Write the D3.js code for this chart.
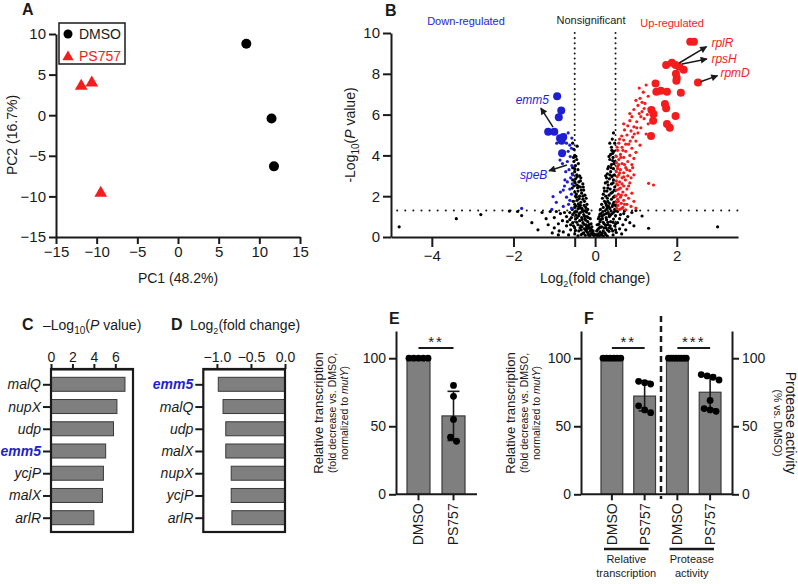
<!DOCTYPE html>
<html lang="en">
<head>
<meta charset="UTF-8">
<title>PS757 transcriptomics figure</title>
<script src="https://d3js.org/d3.v7.min.js"></script>
<style>
  body { margin: 0; background: #fff; }
  svg text { font-family: 'Liberation Sans', Arial, Helvetica, sans-serif; fill: #1a1a1a; }
</style>
</head>
<body>
<script>
  // ---- data ----
  const pcaDmso = [[8.4, 8.8], [11.5, -0.4], [11.8, -6.3]];
  const pcaPs757 = [[-11.9, 3.6], [-10.6, 4.0], [-9.5, -9.6]];
  const pcaTicks = [-15, -10, -5, 0, 5, 10, 15];
  const pcaYTicks = [-15, -10, -5, 0, 5, 10];

  // volcano: [log2 fold change, -log10 p]
  const volcanoNs = [
    [-0.55,4.6],[-0.52,4.3],[-0.5,4.0],[-0.53,3.9],[-0.45,3.8],[-0.52,3.7],[-0.48,3.5],[-0.55,3.4],[-0.42,3.3],[-0.5,3.2],
    [-0.56,3.1],[-0.45,3.05],[-0.38,3.0],[-0.35,2.9],[-0.48,2.85],[-0.55,2.8],[-0.4,2.7],[-0.3,2.6],[-0.45,2.55],[-0.52,2.5],
    [-0.36,2.45],[-0.56,2.4],[-0.28,2.3],[-0.42,2.25],[-0.5,2.2],[-0.33,2.15],[-0.25,2.05],[-0.47,2.0],[-0.38,2.0],[-0.22,1.9],
    [-0.3,1.85],[-0.44,1.8],[-0.54,1.75],[-0.35,1.7],[-0.2,1.6],[-0.27,1.55],[-0.4,1.5],[-0.5,1.45],[-0.32,1.4],[-0.18,1.35],
    [-0.56,1.35],[-0.24,1.3],[-0.45,1.25],[-0.36,1.2],[-0.15,1.15],[-0.28,1.1],[-0.55,1.1],[-0.4,1.05],[-0.2,1.0],[-0.7,1.0],
    [-0.33,0.95],[-0.12,0.9],[-0.25,0.9],[-0.48,0.88],[-0.62,0.85],[-0.8,0.8],[-0.38,0.8],[-0.18,0.75],[-0.1,0.65],[-0.3,0.7],
    [-0.55,0.7],[-0.9,0.65],[-0.22,0.6],[-0.42,0.6],[-0.7,0.55],[-0.08,0.5],[-0.15,0.45],[-0.32,0.5],[-0.5,0.45],[-1.0,0.45],
    [-0.26,0.4],[-0.6,0.35],[-0.05,0.3],[-0.12,0.3],[-0.4,0.3],[-0.2,0.25],[-0.78,0.25],[-0.03,0.15],[-0.1,0.15],[-0.3,0.18],
    [-0.5,0.15],[-0.16,0.1],[-0.65,0.1],[-0.24,0.08],[-0.02,0.05],[-0.42,0.06],[-0.9,0.1],[-0.46,1.95],[-0.41,1.62],[-0.51,1.2],
    [-0.29,1.25],[-0.37,1.42],[-0.47,1.08],[-0.58,0.95],[-0.35,0.55],[-0.45,0.72],[-0.28,0.2],[-0.53,0.55],[-0.14,0.62],[-0.07,0.22],
    [-0.19,0.4],[-0.34,0.35],[-0.6,0.6],[-0.43,2.42],[-0.49,2.65],[-0.39,1.88],[-0.23,0.82],[-0.62,1.2],[-0.68,0.75],[-0.5,1.6],
    [-0.44,4.45],[-0.47,3.95],[-0.41,3.6],[-0.5,3.35],[-0.44,2.95],[-0.36,2.75],[-0.5,2.7],[-0.41,2.5],[-0.29,2.45],[-0.34,2.3],
    [-0.46,2.1],[-0.3,2.0],[-0.26,1.75],[-0.36,1.55],[-0.47,1.52],[-0.23,1.45],[-0.42,1.38],[-0.31,1.3],[-0.21,1.22],[-0.39,1.15],
    [-0.26,1.02],[-0.17,0.95],[-0.44,0.95],[-0.32,0.85],[-0.16,0.55],[-0.27,0.62],[-0.21,0.5],[-0.11,0.42],[-0.37,0.45],[-0.09,0.35],
    [-0.17,0.2],[-0.06,0.12],[-0.34,0.12],[-0.13,0.05],[-0.23,0.32],[-0.48,0.32],
    [-4.8,0.5],[-3.4,0.9],[-2.8,1.1],[-1.8,1.05],[-1.55,0.7],[-1.3,1.2],[-1.2,0.9],[-1.1,1.25],[-1.0,0.95],[-1.4,0.35],
    [-0.95,1.25],[-0.85,1.15],[-1.15,0.6],[-0.75,1.2],[-1.9,1.25],[-2.1,1.27],[-0.88,0.3],[-1.05,0.2],
    [0.45,5.1],[0.42,4.8],[0.48,4.6],[0.4,4.4],[0.46,4.2],[0.38,4.05],[0.44,3.9],[0.36,3.8],[0.48,3.7],[0.4,3.55],
    [0.33,3.45],[0.45,3.35],[0.38,3.2],[0.3,3.1],[0.47,3.05],[0.42,3.0],[0.28,2.9],[0.35,2.85],[0.45,2.8],[0.25,2.65],
    [0.4,2.6],[0.32,2.55],[0.48,2.45],[0.22,2.4],[0.37,2.35],[0.29,2.25],[0.43,2.2],[0.2,2.1],[0.34,2.05],[0.48,2.0],
    [0.26,2.0],[0.18,1.9],[0.3,1.9],[0.4,1.85],[0.23,1.75],[0.46,1.7],[0.35,1.65],[0.16,1.6],[0.28,1.55],[0.42,1.5],
    [0.2,1.45],[0.36,1.4],[0.13,1.35],[0.48,1.35],[0.25,1.3],[0.32,1.2],[0.55,1.25],[0.15,1.15],[0.42,1.15],[0.22,1.1],
    [0.62,1.1],[0.1,1.0],[0.35,1.0],[0.5,1.05],[0.7,1.15],[0.08,0.9],[0.18,0.9],[0.28,0.85],[0.45,0.88],[0.6,0.9],
    [0.75,0.85],[0.12,0.75],[0.38,0.75],[0.55,0.7],[0.05,0.6],[0.22,0.65],[0.32,0.6],[0.48,0.55],[0.68,0.6],[0.85,0.7],
    [0.1,0.45],[0.16,0.5],[0.27,0.45],[0.4,0.4],[0.6,0.4],[0.04,0.3],[0.12,0.25],[0.2,0.3],[0.34,0.28],[0.52,0.22],
    [0.75,0.35],[0.02,0.12],[0.08,0.15],[0.15,0.1],[0.26,0.12],[0.44,0.1],[0.65,0.15],[0.06,0.05],[0.2,0.04],[0.39,1.28],
    [0.44,1.6],[0.31,1.75],[0.47,2.3],[0.41,2.95],[0.34,1.1],[0.27,0.95],[0.5,0.65],[0.43,0.3],[0.24,0.2],[0.14,0.85],
    [0.5,1.55],[0.37,0.55],[0.31,2.4],[0.46,3.6],[0.43,4.1],
    [0.36,4.6],[0.41,4.25],[0.34,3.95],[0.43,3.75],[0.31,3.35],[0.39,3.4],[0.26,3.0],[0.36,3.05],[0.44,2.65],[0.3,2.7],
    [0.23,2.25],[0.39,2.15],[0.45,1.95],[0.26,1.65],[0.33,1.5],[0.19,1.25],[0.29,1.4],[0.46,1.22],[0.12,1.12],[0.27,1.15],
    [0.38,1.08],[0.17,1.02],[0.44,0.72],[0.31,0.72],[0.2,0.72],[0.09,0.62],[0.26,0.58],[0.13,0.48],[0.35,0.45],[0.22,0.45],
    [0.07,0.38],[0.3,0.35],[0.17,0.18],[0.1,0.05],[0.3,0.05],[0.5,0.35],
    [1.15,1.03],[1.31,0.43],[3.0,0.5],[0.9,1.2],[0.8,1.0],[0.95,0.55],[1.0,1.3],[0.72,1.28]
  ];
  const volcanoDown = [
    [-0.66,5.1],[-0.74,5.0],[-0.57,4.85],[-0.94,4.6],[-0.62,4.5],[-0.7,4.6],[-0.58,4.35],[-0.66,4.2],[-0.75,4.15],[-0.61,3.94],
    [-0.86,3.77],[-0.68,3.7],[-0.8,3.6],[-0.57,3.5],[-0.64,3.3],[-0.72,3.2],[-0.55,3.05],[-0.6,2.9],[-0.74,2.8],[-0.68,2.7],
    [-0.56,2.6],[-0.75,2.5],[-0.78,2.3],[-0.62,2.35],[-0.85,2.2],[-0.58,2.1],[-1.03,1.98],[-0.7,1.95],[-0.62,1.8],[-0.95,1.7],
    [-0.65,1.6],[-0.78,1.5],[-0.58,1.42],[-1.06,1.35],[-1.8,1.4]
  ];
  const volcanoUp = [
    [1.25,7.45],[1.18,7.1],[1.3,6.9],[1.1,6.8],[1.0,6.7],[1.22,6.55],[1.05,6.45],[1.32,6.3],[0.95,6.25],[1.15,6.15],
    [1.28,6.0],[1.08,6.05],[0.9,5.9],[1.2,5.8],[0.85,5.7],[1.02,5.65],[1.3,5.55],[0.8,5.45],[0.95,5.4],[1.12,5.35],
    [0.72,5.25],[0.88,5.2],[1.05,5.1],[1.25,5.05],[0.78,5.0],[0.65,4.95],[0.92,4.9],[0.7,4.75],[1.0,4.7],[0.58,4.6],
    [0.82,4.55],[1.1,4.5],[0.66,4.4],[0.9,4.35],[0.55,4.25],[0.75,4.2],[1.0,4.15],[0.62,4.05],[0.85,4.0],[0.52,3.95],
    [0.7,3.9],[0.95,3.85],[0.58,3.8],[0.8,3.7],[0.52,3.65],[0.66,3.6],[0.9,3.55],[0.55,3.45],[0.75,3.4],[0.62,3.3],
    [0.85,3.25],[0.52,3.2],[0.7,3.15],[0.58,3.05],[0.95,3.05],[0.8,3.0],[0.54,2.95],[0.66,2.9],[0.74,2.8],[0.52,2.75],
    [0.6,2.7],[0.85,2.65],[0.56,2.55],[0.7,2.5],[1.31,2.63],[1.43,2.55],[0.62,2.4],[0.78,2.35],[0.53,2.3],[0.68,2.2],
    [0.9,2.15],[0.57,2.1],[0.75,2.05],[0.51,2.0],[0.62,1.95],[0.82,1.9],[0.55,1.85],[0.7,1.8],[0.95,1.75],[0.52,1.7],
    [0.64,1.65],[0.78,1.6],[0.56,1.55],[0.88,1.5],[0.68,1.45],[0.53,1.4],[1.0,1.42],[0.6,1.35],[0.75,1.33],
    [0.58,3.55],[0.63,3.9],[0.54,4.4],[0.6,4.8],[0.68,4.25],[0.72,3.55],[0.6,3.15],[0.66,2.6],[0.58,2.35],[0.64,2.05],
    [0.57,1.75],[0.72,1.6],[0.65,1.4],[0.82,2.5],[0.88,2.9],[0.78,3.3],[0.92,3.4],[0.75,4.55],[0.86,4.7],[0.96,5.05],
    [1.02,5.35],[1.12,5.9],[1.2,6.3],[1.15,6.6],[0.7,5.55],[0.85,6.05],[1.08,7.3],[0.55,3.35],[0.53,2.6],[0.7,2.95]
  ];
  const volcanoDownTop = [[-0.93,6.9],[-0.83,6.2],[-0.89,5.87],[-1.15,5.16],[-1.0,5.16],[-0.86,4.84],[-0.82,4.72],[-0.78,4.9],[-0.81,4.1]];
  const volcanoUpTop = [
    [2.33,9.57],[2.42,9.57],[1.74,8.43],[1.88,8.54],[1.97,8.43],[2.06,8.35],[2.17,8.2],[1.98,8.0],[2.0,7.8],[1.99,7.66],
    [2.52,7.57],[1.48,7.53],[1.61,7.17],[1.5,7.12],[1.76,7.12],[2.1,7.07],[1.38,6.22],[1.71,6.52],[1.74,6.31],[1.43,6.03],
    [1.97,5.93],[1.42,5.7],[1.76,5.54],[1.83,5.36],[1.37,4.95]
  ];
  // labelled genes: arrow tail, arrow head, text anchor (data units)
  const volcanoNotes = [
    {gene: 'emm5', from: [-1.03, 5.39], to: [-1.33, 6.32], at: [-1.13, 6.5], side: 'end', color: 'down'},
    {gene: 'speB', from: [-0.69, 3.53], to: [-1.13, 3.25], at: [-1.17, 2.84], side: 'end', color: 'down'},
    {gene: 'rplR', from: [2.06, 8.53], to: [2.73, 9.33], at: [2.85, 9.31], side: 'start', color: 'up'},
    {gene: 'rpsH', from: [2.13, 8.48], to: [2.74, 8.73], at: [2.85, 8.55], side: 'start', color: 'up'},
    {gene: 'rpmD', from: [2.58, 7.61], to: [3.0, 7.91], at: [3.07, 7.82], side: 'start', color: 'up'}
  ];
  const volcanoXTicks = [-4, -2, -0.5, 0, 0.5, 2];
  const volcanoYTicks = [0, 2, 4, 6, 8, 10];
  const fcCut = 0.5, pCut = 0.05;

  // panel C / D
  const pGenes = ['malQ', 'nupX', 'udp', 'emm5', 'ycjP', 'malX', 'arlR'];
  const pValues = [6.9, 6.15, 5.83, 5.1, 4.89, 4.8, 4.0];
  const fcGenes = ['emm5', 'malQ', 'udp', 'malX', 'nupX', 'ycjP', 'arlR'];
  const fcValues = [-0.98, -0.91, -0.87, -0.87, -0.79, -0.79, -0.78];
  const pTicks = [0, 2, 4, 6];
  const fcTicks = [-1.0, -0.5, 0.0];

  // panel E
  const eGroups = ['DMSO', 'PS757'];
  const eDmso = [100, 100, 100, 100, 100];
  const ePs757 = [80, 72, 55, 42, 39];
  // panel F
  const fGroups = ['DMSO', 'PS757', 'DMSO ', 'PS757 '];
  const fTransDmso = [100, 100, 100, 100, 100, 100];
  const fTransPs757 = [83, 82, 81, 65, 62, 60];
  const fProtDmso = [100, 100, 100, 100, 100, 100, 100, 100];
  const fProtPs757 = [88, 87, 86, 84, 69, 63, 62, 61];
  const barTicks = [0, 50, 100];

  // ---- layout ----
  const RED = '#f41c1c', BLUE = '#1e1ed2', INK = '#1a1a1a';
  const BAR = '#7f7f7f', BAR_EDGE = '#3a3a3a';

  const svg = d3.select('body').append('svg').attr('width', 798).attr('height', 584);
  svg.append('defs').append('marker').attr('id', 'arrow')
    .attr('viewBox', '0 0 10 10').attr('refX', 9).attr('refY', 5)
    .attr('markerWidth', 9).attr('markerHeight', 7).attr('markerUnits', 'userSpaceOnUse')
    .attr('orient', 'auto')
    .append('path').attr('d', 'M0,0L10,5L0,10z').attr('fill', INK);

  function styleAxis(g, size) {
    g.select('.domain').attr('stroke', INK).attr('stroke-width', 2);
    g.selectAll('.tick line').attr('stroke', INK).attr('stroke-width', 2);
    g.selectAll('.tick text').attr('fill', INK).style('font-size', size + 'px')
      .style('font-family', "'Liberation Sans', Arial, sans-serif");
    return g;
  }
  function letter(t, x, y) {
    svg.append('text').attr('x', x).attr('y', y).text(t)
      .style('font-size', '16px').style('font-weight', 'bold');
  }

  // ===== A: PCA =====
  const xA = d3.scaleLinear().domain([-15, 15]).range([56, 300]);
  const yA = d3.scaleLinear().domain([-15, 10]).range([237, 34]);
  const gA = svg.append('g');
  styleAxis(gA.append('g').attr('transform', 'translate(0,237)')
    .call(d3.axisBottom(xA).tickValues(pcaTicks).tickSize(7).tickSizeOuter(0).tickPadding(2)), 15);
  styleAxis(gA.append('g').attr('transform', 'translate(56,0)')
    .call(d3.axisLeft(yA).tickValues(pcaYTicks).tickSize(7).tickSizeOuter(0).tickPadding(3)), 15);
  gA.selectAll('circle.dmso').data(pcaDmso).join('circle')
    .attr('cx', d => xA(d[0])).attr('cy', d => yA(d[1])).attr('r', 5).attr('fill', '#000');
  const tri = d3.symbol(d3.symbolTriangle).size(70);
  gA.selectAll('path.ps').data(pcaPs757).join('path')
    .attr('transform', d => `translate(${xA(d[0])},${yA(d[1])})`).attr('d', tri).attr('fill', RED);
  gA.append('text').attr('x', 178).attr('y', 283).attr('text-anchor', 'middle')
    .style('font-size', '14px').text('PC1 (48.2%)');
  gA.append('text').attr('transform', 'translate(17,135) rotate(-90)').attr('text-anchor', 'middle')
    .style('font-size', '14px').text('PC2 (16.7%)');
  // legend
  gA.append('rect').attr('x', 59).attr('y', 23).attr('width', 66).attr('height', 41)
    .attr('fill', '#fff').attr('stroke', INK).attr('stroke-width', 1.5);
  gA.append('circle').attr('cx', 68).attr('cy', 34).attr('r', 4.5).attr('fill', '#000');
  gA.append('text').attr('x', 79).attr('y', 39).style('font-size', '14px').text('DMSO');
  gA.append('path').attr('transform', 'translate(68,57)').attr('d', d3.symbol(d3.symbolTriangle).size(55)).attr('fill', RED);
  gA.append('text').attr('x', 79).attr('y', 61).style('font-size', '14px').style('fill', RED).text('PS757');
  letter('A', 22, 15);

  // ===== B: volcano =====
  const xB = d3.scaleLinear().domain([-5, 3.5]).range([391, 738]);
  const yB = d3.scaleLinear().domain([0, 10]).range([237, 33]);
  const gB = svg.append('g');
  const dotted = gB.append('g').attr('stroke', INK).attr('stroke-width', 2).attr('stroke-linecap', 'round');
  dotted.append('line').attr('x1', xB(-4.85)).attr('x2', xB(3.5))
    .attr('y1', yB(-Math.log10(pCut))).attr('y2', yB(-Math.log10(pCut))).attr('stroke-dasharray', '0.1 8');
  [-fcCut, fcCut].forEach(v => dotted.append('line').attr('x1', xB(v)).attr('x2', xB(v))
    .attr('y1', yB(10)).attr('y2', yB(0)).attr('stroke-dasharray', '0.1 5'));
  const dots = (data, r, fill) => gB.append('g').selectAll('circle').data(data).join('circle')
    .attr('cx', d => xB(d[0])).attr('cy', d => yB(d[1])).attr('r', r).attr('fill', fill);
  dots(volcanoNs, 1.6, '#000');
  dots(volcanoDown, 1.6, BLUE);
  dots(volcanoUp, 1.6, RED);
  dots(volcanoDownTop, 4, BLUE);
  dots(volcanoUpTop, 4, RED);
  styleAxis(gB.append('g').attr('transform', 'translate(0,237)')
    .call(d3.axisBottom(xB).tickValues(volcanoXTicks).tickSize(10).tickSizeOuter(0).tickPadding(3)
      .tickFormat(d => Math.abs(d) === fcCut ? '' : d3.format('d')(d))), 15);
  styleAxis(gB.append('g').attr('transform', 'translate(391,0)')
    .call(d3.axisLeft(yB).tickValues(volcanoYTicks).tickSize(8).tickSizeOuter(0).tickPadding(3)), 15);
  volcanoNotes.forEach(n => {
    gB.append('line').attr('x1', xB(n.from[0])).attr('y1', yB(n.from[1]))
      .attr('x2', xB(n.to[0])).attr('y2', yB(n.to[1]))
      .attr('stroke', INK).attr('stroke-width', 1.5).attr('marker-end', 'url(#arrow)');
    gB.append('text').attr('x', xB(n.at[0])).attr('y', yB(n.at[1])).attr('text-anchor', n.side)
      .style('font-size', '12px').style('font-style', 'italic')
      .style('fill', n.color === 'up' ? RED : BLUE).text(n.gene);
  });
  gB.append('text').attr('x', 466).attr('y', 25).attr('text-anchor', 'middle').style('font-size', '11px')
    .style('fill', BLUE).text('Down-regulated');
  gB.append('text').attr('x', 591).attr('y', 24).attr('text-anchor', 'middle').style('font-size', '11px')
    .text('Nonsignificant');
  gB.append('text').attr('x', 672).attr('y', 27).attr('text-anchor', 'middle').style('font-size', '11px')
    .style('fill', RED).text('Up-regulated');
  const bx = gB.append('text').attr('x', 595).attr('y', 283).attr('text-anchor', 'middle').style('font-size', '14px');
  bx.append('tspan').text('Log');
  bx.append('tspan').attr('dy', 4).style('font-size', '9px').text('2');
  bx.append('tspan').attr('dy', -4).text('(fold change)');
  const by = gB.append('text').attr('transform', 'translate(355,135) rotate(-90)').attr('text-anchor', 'middle')
    .style('font-size', '14px');
  by.append('tspan').text('-Log');
  by.append('tspan').attr('dy', 4).style('font-size', '10px').text('10');
  by.append('tspan').attr('dy', -4).text('(');
  by.append('tspan').style('font-style', 'italic').text('P');
  by.append('tspan').text(' value)');
  letter('B', 385, 16);

  // ===== C / D: horizontal bars =====
  const boxTop = 369, boxBottom = 532;
  function hbars(genes, values, x, ticks, fmt, titleParts, titleX, lx, bar0) {
    const g = svg.append('g');
    const y = d3.scalePoint().domain(genes).range([384.3, 517.7]);
    const [x0, x1] = x.range();
    g.selectAll('rect.bar').data(genes).join('rect')
      .attr('x', (d, i) => Math.min(x(values[i]), x(bar0)))
      .attr('width', (d, i) => Math.abs(x(values[i]) - x(bar0)))
      .attr('y', d => y(d) - 7).attr('height', 14)
      .attr('fill', BAR).attr('stroke', BAR_EDGE).attr('stroke-width', 1);
    g.append('rect').attr('x', x0).attr('y', boxTop).attr('width', x1 - x0).attr('height', boxBottom - boxTop)
      .attr('fill', 'none').attr('stroke', INK).attr('stroke-width', 2.2);
    styleAxis(g.append('g').attr('transform', `translate(0,${boxTop})`)
      .call(d3.axisTop(x).tickValues(ticks).tickFormat(fmt).tickSize(5).tickSizeOuter(0).tickPadding(2)), 14);
    const ya = styleAxis(g.append('g').attr('transform', `translate(${x0},0)`)
      .call(d3.axisLeft(y).tickSize(8).tickSizeOuter(0).tickPadding(2)), 14);
    ya.select('.domain').remove();
    ya.selectAll('.tick text').style('font-style', 'italic')
      .filter(d => d === 'emm5').style('font-weight', 'bold').style('fill', BLUE);
    const t = g.append('text').attr('x', titleX).attr('y', 330).style('font-size', '14px');
    titleParts(t);
    letter(lx[0], lx[1], 330);
  }
  hbars(pGenes, pValues, d3.scaleLinear().domain([0, 7.65]).range([51, 133]), pTicks, d3.format('d'), t => {
    t.append('tspan').text('\u2013Log');
    t.append('tspan').attr('dy', 4).style('font-size', '10px').text('10');
    t.append('tspan').attr('dy', -4).text('(');
    t.append('tspan').style('font-style', 'italic').text('P');
    t.append('tspan').text(' value)');
  }, 43, ['C', 22], 0);
  hbars(fcGenes, fcValues, d3.scaleLinear().domain([-1.2, 0]).range([203.3, 285]), fcTicks, d3.format('.1f'), t => {
    t.append('tspan').text('Log');
    t.append('tspan').attr('dy', 4).style('font-size', '9px').text('2');
    t.append('tspan').attr('dy', -4).text('(fold change)');
  }, 190, ['D', 171], 0);

  // ===== E / F: bars with dots =====
  const yE = d3.scaleLinear().domain([0, 120]).range([494.3, 331]);
  const mean = a => d3.mean(a), sd = a => d3.deviation(a);

  function swarm(vals, cx, bw) {
    // cluster overlapping values, spread them across the bar
    const sorted = vals.map((v, i) => ({v, i})).sort((a, b) => b.v - a.v);
    const out = [];
    let cluster = [];
    const flush = () => {
      const k = cluster.length;
      const span = k > 1 ? Math.min((k - 1) * 6, bw - 4) : 0;
      cluster.forEach((c, j) => out.push({v: c.v, x: cx - span / 2 + (k > 1 ? j * span / (k - 1) : 0)}));
      cluster = [];
    };
    sorted.forEach(p => {
      if (cluster.length && Math.abs(yE(p.v) - yE(cluster[cluster.length - 1].v)) >= 6.6) flush();
      cluster.push(p);
    });
    flush();
    return out;
  }

  function barGroup(g, x, cat, vals) {
    const cx = x(cat) + x.bandwidth() / 2, bw = x.bandwidth();
    const m = mean(vals), s = sd(vals);
    g.append('rect').attr('x', x(cat)).attr('width', bw).attr('y', yE(m)).attr('height', yE(0) - yE(m))
      .attr('fill', BAR).attr('stroke', BAR_EDGE).attr('stroke-width', 1.2);
    if (s > 0) {
      const eb = g.append('g').attr('stroke', INK).attr('stroke-width', 1.6);
      eb.append('line').attr('x1', cx).attr('x2', cx).attr('y1', yE(m + s)).attr('y2', yE(m - s));
      [m + s, m - s].forEach(v => eb.append('line').attr('x1', cx - 6).attr('x2', cx + 6).attr('y1', yE(v)).attr('y2', yE(v)));
    }
    g.append('g').selectAll('circle').data(swarm(vals, cx, bw)).join('circle')
      .attr('cx', d => d.x).attr('cy', d => yE(d.v)).attr('r', 3.4).attr('fill', '#000');
  }
  function sig(g, x, a, b, stars) {
    const x1 = x(a) + x.bandwidth() / 2, x2 = x(b) + x.bandwidth() / 2;
    g.append('line').attr('x1', x1).attr('x2', x2).attr('y1', 348).attr('y2', 348)
      .attr('stroke', INK).attr('stroke-width', 2);
    g.append('text').attr('x', (x1 + x2) / 2).attr('y', 347).attr('text-anchor', 'middle')
      .style('font-size', '15px').style('letter-spacing', '2px').text(stars);
  }
  function xCats(g, x, left, right) {
    const ax = styleAxis(g.append('g').attr('transform', `translate(0,${yE(0)})`)
      .call(d3.axisBottom(x).tickSize(6).tickSizeOuter(0)), 14);
    ax.select('.domain').attr('d', `M${left},0H${right}`);
    ax.selectAll('.tick text').attr('transform', 'rotate(-90)').attr('x', -9).attr('y', 0)
      .attr('dy', '0.35em').style('text-anchor', 'end').text(d => d.trim());
  }
  function transLabel(g, cx) {
    const t = g.append('g').attr('text-anchor', 'middle');
    t.append('text').attr('transform', `translate(${cx + 5},413) rotate(-90)`).style('font-size', '13px')
      .text('Relative transcription');
    t.append('text').attr('transform', `translate(${cx + 17.5},413) rotate(-90)`).style('font-size', '10.5px')
      .text('(fold decrease vs. DMSO,');
    const n = t.append('text').attr('transform', `translate(${cx + 30},413) rotate(-90)`).style('font-size', '10.5px');
    n.append('tspan').text('normalized to ');
    n.append('tspan').style('font-style', 'italic').text('mutY');
    n.append('tspan').text(')');
  }

  // E
  const gE = svg.append('g');
  const xE = d3.scaleBand().domain(eGroups).range([407, 465]).paddingInner(0.343).paddingOuter(0);
  barGroup(gE, xE, 'DMSO', eDmso);
  barGroup(gE, xE, 'PS757', ePs757);
  styleAxis(gE.append('g').attr('transform', 'translate(396,0)')
    .call(d3.axisLeft(yE).tickValues(barTicks).tickSize(7).tickSizeOuter(0).tickPadding(3)), 14);
  xCats(gE, xE, 396, 477);
  sig(gE, xE, 'DMSO', 'PS757', '**');
  transLabel(gE, 318);
  letter('E', 389, 324);

  // F
  const gF = svg.append('g');
  const xF = d3.scaleBand().domain(fGroups).range([601, 721]).paddingInner(0.335).paddingOuter(0);
  barGroup(gF, xF, fGroups[0], fTransDmso);
  barGroup(gF, xF, fGroups[1], fTransPs757);
  barGroup(gF, xF, fGroups[2], fProtDmso);
  barGroup(gF, xF, fGroups[3], fProtPs757);
  styleAxis(gF.append('g').attr('transform', 'translate(581,0)')
    .call(d3.axisLeft(yE).tickValues(barTicks).tickSize(7).tickSizeOuter(0).tickPadding(3)), 14);
  styleAxis(gF.append('g').attr('transform', 'translate(732,0)')
    .call(d3.axisRight(yE).tickValues(barTicks).tickSize(7).tickSizeOuter(0).tickPadding(3)), 14);
  xCats(gF, xF, 581, 732);
  const midF = (xF(fGroups[1]) + xF.bandwidth() + xF(fGroups[2])) / 2;
  gF.append('line').attr('x1', midF).attr('x2', midF).attr('y1', 316).attr('y2', 499)
    .attr('stroke', INK).attr('stroke-width', 2.5).attr('stroke-dasharray', '6 4');
  sig(gF, xF, fGroups[0], fGroups[1], '**');
  sig(gF, xF, fGroups[2], fGroups[3], '***');
  transLabel(gF, 510);
  // group brackets
  [[0, 1, ['Relative', 'transcription']], [2, 3, ['Protease', 'activity']]].forEach(([a, b, words]) => {
    const x1 = xF(fGroups[a]) + 3, x2 = xF(fGroups[b]) + xF.bandwidth() - 7;
    gF.append('line').attr('x1', x1).attr('x2', x2).attr('y1', 549).attr('y2', 549)
      .attr('stroke', INK).attr('stroke-width', 2.5);
    words.forEach((w, i) => gF.append('text').attr('x', (x1 + x2) / 2).attr('y', 563 + i * 14)
      .attr('text-anchor', 'middle').style('font-size', '11px').text(w));
  });
  gF.append('text').attr('transform', 'translate(786,423) rotate(90)').attr('text-anchor', 'middle')
    .style('font-size', '14px').text('Protease activity');
  gF.append('text').attr('transform', 'translate(774,423) rotate(90)').attr('text-anchor', 'middle')
    .style('font-size', '10.5px').text('(% vs. DMSO)');
  letter('F', 584, 324);
</script>
</body>
</html>
